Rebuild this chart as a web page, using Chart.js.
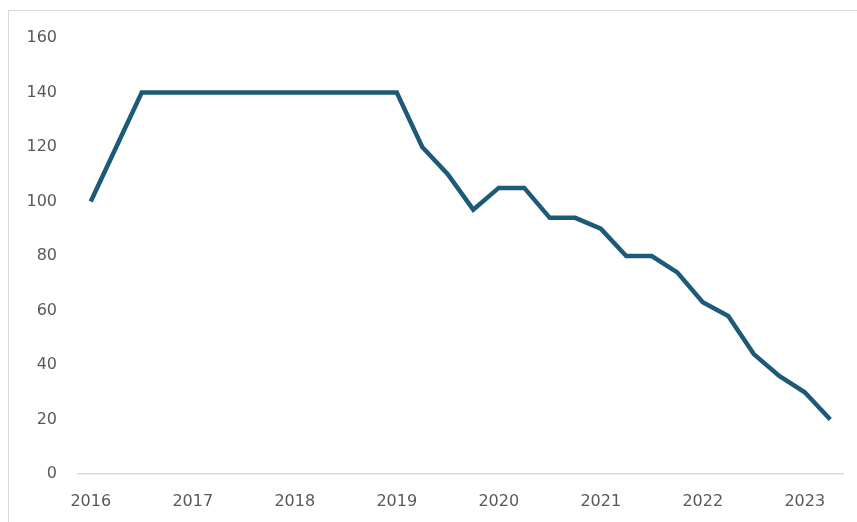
<!DOCTYPE html>
<html>
<head>
<meta charset="utf-8">
<script src="https://cdn.jsdelivr.net/npm/chart.js@4.4.1/dist/chart.umd.min.js"></script>
<style>
  html, body { margin: 0; padding: 0; background: #fff; overflow: hidden; }
  .frame {
    position: absolute; left: 8px; top: 10px;
    width: 900px; height: 560px;
    border: 1px solid #d9d9d9;
  }
  #chart { position: absolute; left: 0; top: 0; }
</style>
</head>
<body>
<div class="frame"></div>
<canvas id="chart" width="857" height="522"></canvas>
<script>
  // quarterly series, 2016 Q1 .. 2023 Q2
  const years = ['2016', '2017', '2018', '2019', '2020', '2021', '2022', '2023'];
  const quarters = [
    '2016 Q1', '2016 Q2', '2016 Q3', '2016 Q4',
    '2017 Q1', '2017 Q2', '2017 Q3', '2017 Q4',
    '2018 Q1', '2018 Q2', '2018 Q3', '2018 Q4',
    '2019 Q1', '2019 Q2', '2019 Q3', '2019 Q4',
    '2020 Q1', '2020 Q2', '2020 Q3', '2020 Q4',
    '2021 Q1', '2021 Q2', '2021 Q3', '2021 Q4',
    '2022 Q1', '2022 Q2', '2022 Q3', '2022 Q4',
    '2023 Q1', '2023 Q2',
  ];
  const values = [
    100, 120, 140, 140,
    140, 140, 140, 140,
    140, 140, 140, 140,
    140, 120, 110, 97,
    105, 105, 94, 94,
    90, 80, 80, 74,
    63, 58, 44, 36,
    30, 20,
  ];
  const yTicks = [0, 20, 40, 60, 80, 100, 120, 140, 160];

  const tickFont = { family: 'DejaVu Sans', size: 16 };
  const tickColor = '#595959';

  new Chart(document.getElementById('chart'), {
    type: 'line',
    data: {
      labels: quarters,
      datasets: [
        {
          data: values,
          borderColor: '#1d5a78',
          borderWidth: 4.5,
          pointRadius: 0,
          tension: 0,
          fill: false,
        },
      ],
    },
    options: {
      responsive: false,
      animation: false,
      layout: { padding: { top: 38, right: 14, left: 0, bottom: 0 } },
      plugins: { legend: { display: false }, tooltip: { enabled: false } },
      scales: {
        x: {
          offset: true,
          grid: { display: false, drawTicks: false },
          border: { display: true, color: '#d9d9d9', width: 1.5 },
          ticks: {
            autoSkip: false,
            maxRotation: 0,
            padding: 18,
            color: tickColor,
            font: tickFont,
            callback: function (value, index) {
              const q = quarters[index];
              return q.endsWith('Q1') ? years[years.indexOf(q.slice(0, 4))] : '';
            },
          },
          afterFit: (scale) => { scale.height = 48; },
        },
        y: {
          min: 0,
          max: 160,
          afterBuildTicks: (scale) => { scale.ticks = yTicks.map((v) => ({ value: v })); },
          grid: { display: false, drawTicks: false },
          border: { display: false },
          ticks: { padding: 21, color: tickColor, font: tickFont },
          afterFit: (scale) => { scale.width = 78; },
        },
      },
    },
  });
</script>
</body>
</html>
